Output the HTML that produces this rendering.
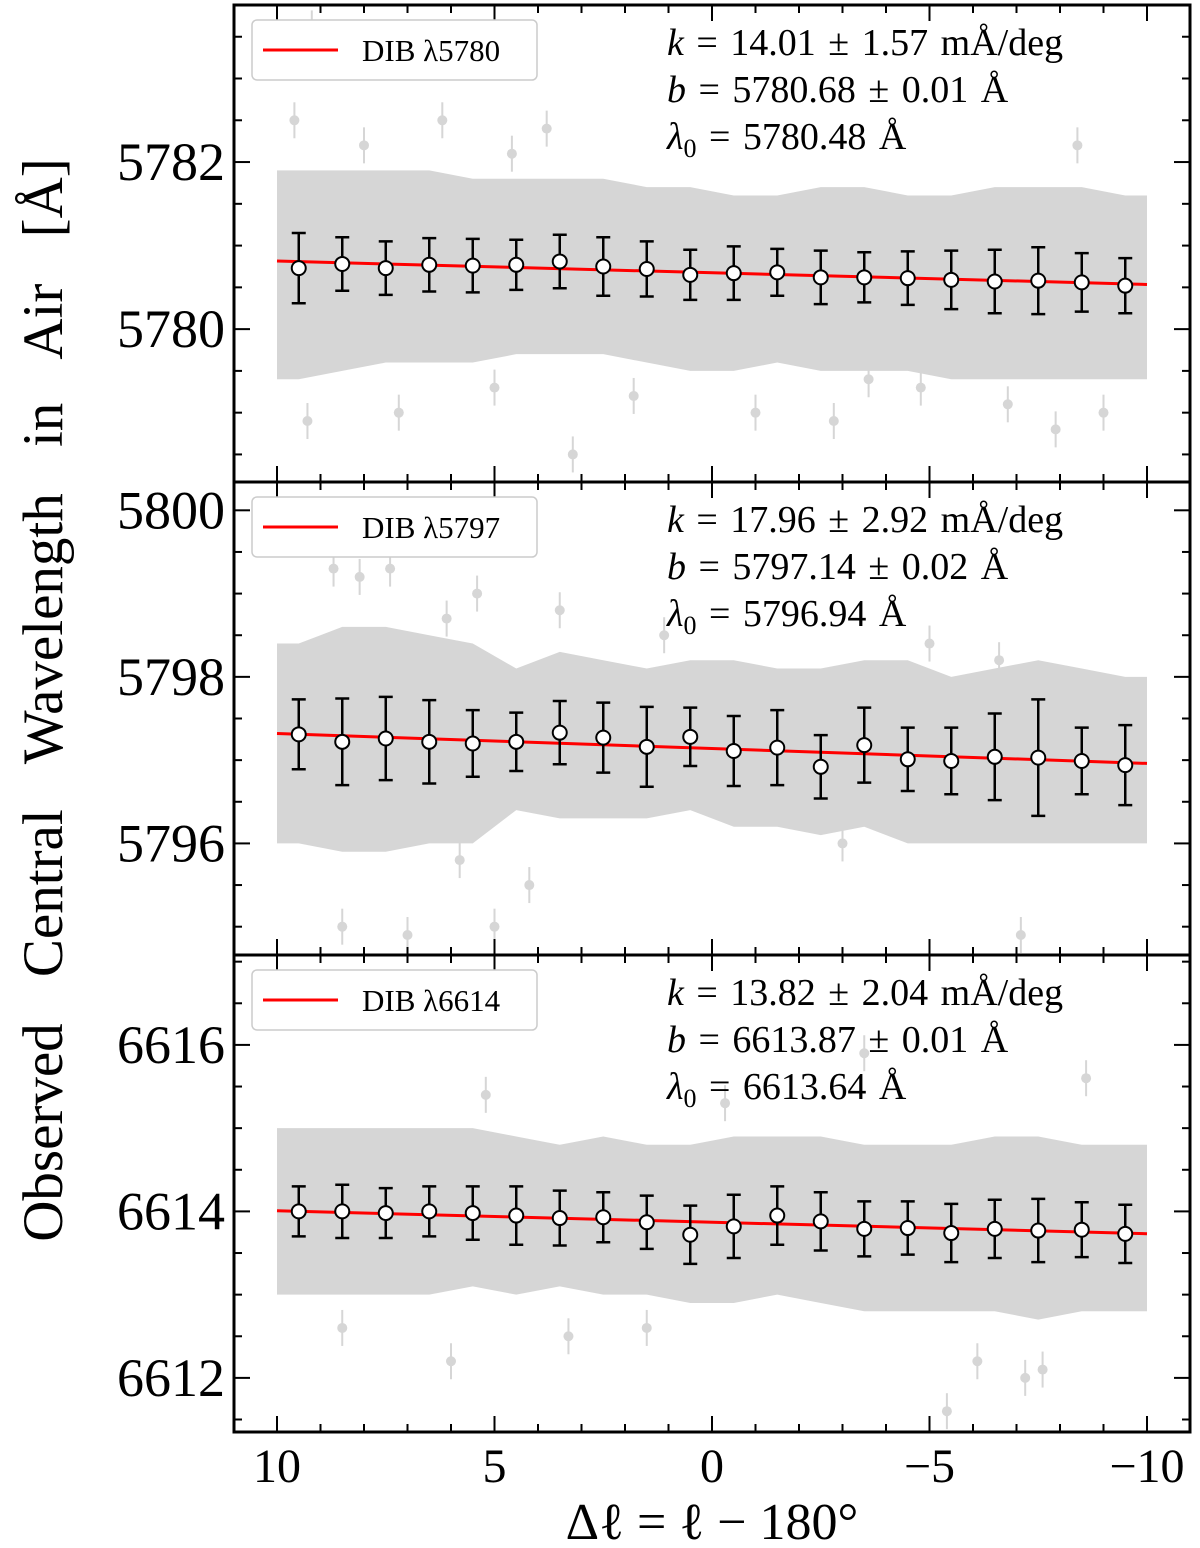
<!DOCTYPE html>
<html><head><meta charset="utf-8"><style>
body{margin:0;background:#fff}
svg{display:block;font-family:"Liberation Serif",serif}
</style></head><body>
<svg id="chart" width="1200" height="1548" viewBox="0 0 1200 1548" xmlns="http://www.w3.org/2000/svg"></svg>
<script>
// ----- data -----
const binX = [9.5,8.5,7.5,6.5,5.5,4.5,3.5,2.5,1.5,0.5,-0.5,-1.5,-2.5,-3.5,-4.5,-5.5,-6.5,-7.5,-8.5,-9.5];
const xTicks = [10,5,0,-5,-10];
const dibNames = ["DIB λ5780","DIB λ5797","DIB λ6614"];
const fitK = [0.01401,0.01796,0.01382];
const fitB = [5780.675,5797.14,6613.87];
const kText = ["k = 14.01 ± 1.57 mÅ/deg","k = 17.96 ± 2.92 mÅ/deg","k = 13.82 ± 2.04 mÅ/deg"];
const bText = ["b = 5780.68 ± 0.01 Å","b = 5797.14 ± 0.02 Å","b = 6613.87 ± 0.01 Å"];
const l0Text = ["λ0 = 5780.48 Å","λ0 = 5796.94 Å","λ0 = 6613.64 Å"];
const yTicks1 = [5780,5782];
const yTicks2 = [5796,5798,5800];
const yTicks3 = [6612,6614,6616];
const binY1 = [5780.73,5780.78,5780.73,5780.77,5780.76,5780.77,5780.81,5780.75,5780.72,5780.65,5780.67,5780.68,5780.62,5780.62,5780.61,5780.59,5780.57,5780.58,5780.56,5780.52];
const binE1 = [0.42,0.32,0.32,0.32,0.32,0.30,0.32,0.35,0.33,0.30,0.32,0.28,0.32,0.30,0.32,0.35,0.38,0.40,0.35,0.33];
const binY2 = [5797.31,5797.22,5797.26,5797.22,5797.20,5797.22,5797.33,5797.27,5797.16,5797.28,5797.11,5797.15,5796.92,5797.18,5797.01,5796.99,5797.04,5797.03,5796.99,5796.94];
const binE2 = [0.42,0.52,0.50,0.50,0.40,0.35,0.38,0.42,0.48,0.35,0.42,0.45,0.38,0.45,0.38,0.40,0.52,0.70,0.40,0.48];
const binY3 = [6614.00,6614.00,6613.98,6614.00,6613.98,6613.95,6613.92,6613.93,6613.87,6613.72,6613.82,6613.95,6613.88,6613.79,6613.80,6613.74,6613.79,6613.77,6613.78,6613.73];
const binE3 = [0.30,0.32,0.30,0.30,0.32,0.35,0.33,0.30,0.32,0.35,0.38,0.35,0.35,0.33,0.32,0.35,0.35,0.38,0.33,0.35];
// grey cloud envelope per bin
const bandHi1 = [5781.9,5781.9,5781.9,5781.9,5781.8,5781.8,5781.8,5781.8,5781.7,5781.7,5781.6,5781.6,5781.7,5781.7,5781.6,5781.6,5781.7,5781.7,5781.7,5781.6];
const bandLo1 = [5779.4,5779.5,5779.6,5779.6,5779.6,5779.7,5779.7,5779.7,5779.6,5779.5,5779.5,5779.6,5779.5,5779.5,5779.5,5779.4,5779.4,5779.4,5779.4,5779.4];
const bandHi2 = [5798.4,5798.6,5798.6,5798.5,5798.4,5798.1,5798.3,5798.2,5798.1,5798.2,5798.2,5798.1,5798.1,5798.2,5798.2,5798.0,5798.1,5798.2,5798.1,5798.0];
const bandLo2 = [5796.0,5795.9,5795.9,5796.0,5796.0,5796.4,5796.3,5796.3,5796.3,5796.4,5796.2,5796.2,5796.1,5796.2,5796.0,5796.0,5796.0,5796.0,5796.0,5796.0];
const bandHi3 = [6615.0,6615.0,6615.0,6615.0,6615.0,6614.9,6614.8,6614.9,6614.8,6614.8,6614.9,6614.9,6614.9,6614.8,6614.8,6614.8,6614.9,6614.9,6614.8,6614.8];
const bandLo3 = [6613.0,6613.0,6613.0,6613.0,6613.1,6613.0,6613.1,6613.0,6613.0,6612.9,6612.9,6613.0,6612.9,6612.8,6612.8,6612.8,6612.8,6612.7,6612.8,6612.8];
// outliers
const outX1 = [9.3,9.6,8.0,6.2,4.6,3.8,1.8,-1.0,-2.8,-4.8,-6.8,-7.9,-9.0,9.2,7.2,5.0,3.2,-3.6,-8.4];
const outY1 = [5778.9,5782.5,5782.2,5782.5,5782.1,5782.4,5779.2,5779.0,5778.9,5779.3,5779.1,5778.8,5779.0,5783.6,5779.0,5779.3,5778.5,5779.4,5782.2];
const outX2 = [8.7,8.1,7.4,6.1,5.4,5.0,3.5,1.1,-5.0,-6.6,-7.1,8.5,7.0,5.8,4.2,-3.0];
const outY2 = [5799.3,5799.2,5799.3,5798.7,5799.0,5795.0,5798.8,5798.5,5798.4,5798.2,5794.9,5795.0,5794.9,5795.8,5795.5,5796.0];
const outX3 = [8.5,6.0,5.2,3.3,1.5,-0.3,-3.5,-6.1,-7.6,-8.6,-5.4,-7.2];
const outY3 = [6612.6,6612.2,6615.4,6612.5,6612.6,6615.3,6615.9,6612.2,6612.1,6615.6,6611.6,6612.0];

// ----- layout -----
const L=234,R=1190;
const panels=[
 {top:5,bot:482,ymin:5778.17,ymax:5783.88,ticks:yTicks1,by:binY1,be:binE1,hi:bandHi1,lo:bandLo1,ox:outX1,oy:outY1},
 {top:482,bot:955,ymin:5794.66,ymax:5800.34,ticks:yTicks2,by:binY2,be:binE2,hi:bandHi2,lo:bandLo2,ox:outX2,oy:outY2},
 {top:955,bot:1432,ymin:6611.35,ymax:6617.08,ticks:yTicks3,by:binY3,be:binE3,hi:bandHi3,lo:bandLo3,ox:outX3,oy:outY3}
];
const sx=v=>712-v*43.5;
const svg=document.getElementById('chart');
const NS="http://www.w3.org/2000/svg";
function mk(tag,attrs,parent){const e=document.createElementNS(NS,tag);for(const k in attrs)e.setAttribute(k,attrs[k]);(parent||svg).appendChild(e);return e;}

panels.forEach((p,i)=>{
 const sy=v=>p.bot-(v-p.ymin)/(p.ymax-p.ymin)*(p.bot-p.top);
 const g=mk('g',{});
 
 
 let pts=[];
 const ex=[10].concat(binX,[-10]);
 const hi=[p.hi[0]].concat(p.hi,[p.hi[p.hi.length-1]]);
 const lo=[p.lo[0]].concat(p.lo,[p.lo[p.lo.length-1]]);
 ex.forEach((x,j)=>pts.push(sx(x)+','+sy(hi[j])));
 for(let j=ex.length-1;j>=0;j--)pts.push(sx(ex[j])+','+sy(lo[j]));
 const band=mk('polygon',{points:pts.join(' '),fill:'#d6d6d6'},g);
 
 
 p.ox.forEach((x,j)=>{
  mk('line',{x1:sx(x),x2:sx(x),y1:sy(p.oy[j])-18,y2:sy(p.oy[j])+18,stroke:'#d6d6d6','stroke-width':2},g);
  const c=mk('circle',{cx:sx(x),cy:sy(p.oy[j]),r:5,fill:'#d6d6d6'},g);
  
  
 });
 const fl=mk('line',{x1:sx(10),x2:sx(-10),y1:sy(fitB[i]+fitK[i]*10),y2:sy(fitB[i]-fitK[i]*10),stroke:'#ff0000','stroke-width':3},g);
 
 
 binX.forEach((x,j)=>{
  const X=sx(x),y1=sy(p.by[j]+p.be[j]),y2=sy(p.by[j]-p.be[j]);
  const eb=mk('path',{d:`M${X},${y1}V${y2}M${X-7},${y1}H${X+7}M${X-7},${y2}H${X+7}`,stroke:'#000','stroke-width':2.5,fill:'none'},g);
  
  
  const c=mk('circle',{cx:X,cy:sy(p.by[j]),r:7,fill:'#fff',stroke:'#000','stroke-width':2},g);
  
  
 });
 mk('rect',{x:L,y:p.top,width:R-L,height:p.bot-p.top,fill:'none',stroke:'#000','stroke-width':3},g);
 for(let v=-10;v<=10;v++){
  const len=(v%5===0)?16:8;
  mk('line',{x1:sx(v),x2:sx(v),y1:p.bot,y2:p.bot-len,stroke:'#000','stroke-width':2},g);
  mk('line',{x1:sx(v),x2:sx(v),y1:p.top,y2:p.top+len,stroke:'#000','stroke-width':2},g);
 }
 for(let v=Math.ceil(p.ymin*2)/2;v<=p.ymax;v+=0.5){
  const major=Math.abs(v/2-Math.round(v/2))<1e-6;const len=major?16:8;const Y=sy(v);
  mk('line',{x1:L,x2:L+len,y1:Y,y2:Y,stroke:'#000','stroke-width':2},g);
  mk('line',{x1:R,x2:R-len,y1:Y,y2:Y,stroke:'#000','stroke-width':2},g);
 }
 p.ticks.forEach(v=>{
  const t=mk('text',{x:225,y:sy(v)+18,'text-anchor':'end','font-size':54},g);
  t.textContent=v;
  
  
 });
 const lg=mk('g',{},g);
 
 
 mk('rect',{x:252,y:p.top+15,width:285,height:60,rx:5,fill:'#fff',stroke:'#ccc','stroke-width':1.5},lg);
 mk('line',{x1:263,x2:338,y1:p.top+45,y2:p.top+45,stroke:'#ff0000','stroke-width':3},lg);
 const lt=mk('text',{x:362,y:p.top+56,'font-size':31},lg);
 lt.textContent=dibNames[i];
 [kText[i],bText[i],l0Text[i]].forEach((s,j)=>{
  const t=mk('text',{x:667,y:p.top+50+j*47,'font-size':38,'word-spacing':'3'},g);
  
  
  const parts=s.split(' = ');
  const nm=mk('tspan',{'font-style':'italic'},t);
  if(parts[0]==='λ0'){nm.textContent='λ';const sb=mk('tspan',{'font-size':26,dy:8,'font-style':'normal'},t);sb.textContent='0';const r=mk('tspan',{dy:-8},t);r.textContent=' = '+parts[1];}
  else{nm.textContent=parts[0];const r=mk('tspan',{},t);r.textContent=' = '+parts[1];}
 });
});
xTicks.forEach(v=>{
 const t=mk('text',{x:sx(v),y:1482,'text-anchor':'middle','font-size':48});
 t.textContent=v<0?'−'+(-v):String(v);
 
 
});
const xl=mk('text',{x:712,y:1539,'text-anchor':'middle','font-size':52});
xl.textContent='Δℓ = ℓ − 180°';


const yl=mk('text',{x:0,y:0,'text-anchor':'middle','font-size':57,'word-spacing':'32',transform:'translate(62,700) rotate(-90)'});
yl.textContent='Observed Central Wavelength in Air [Å]';


</script>
</body></html>
